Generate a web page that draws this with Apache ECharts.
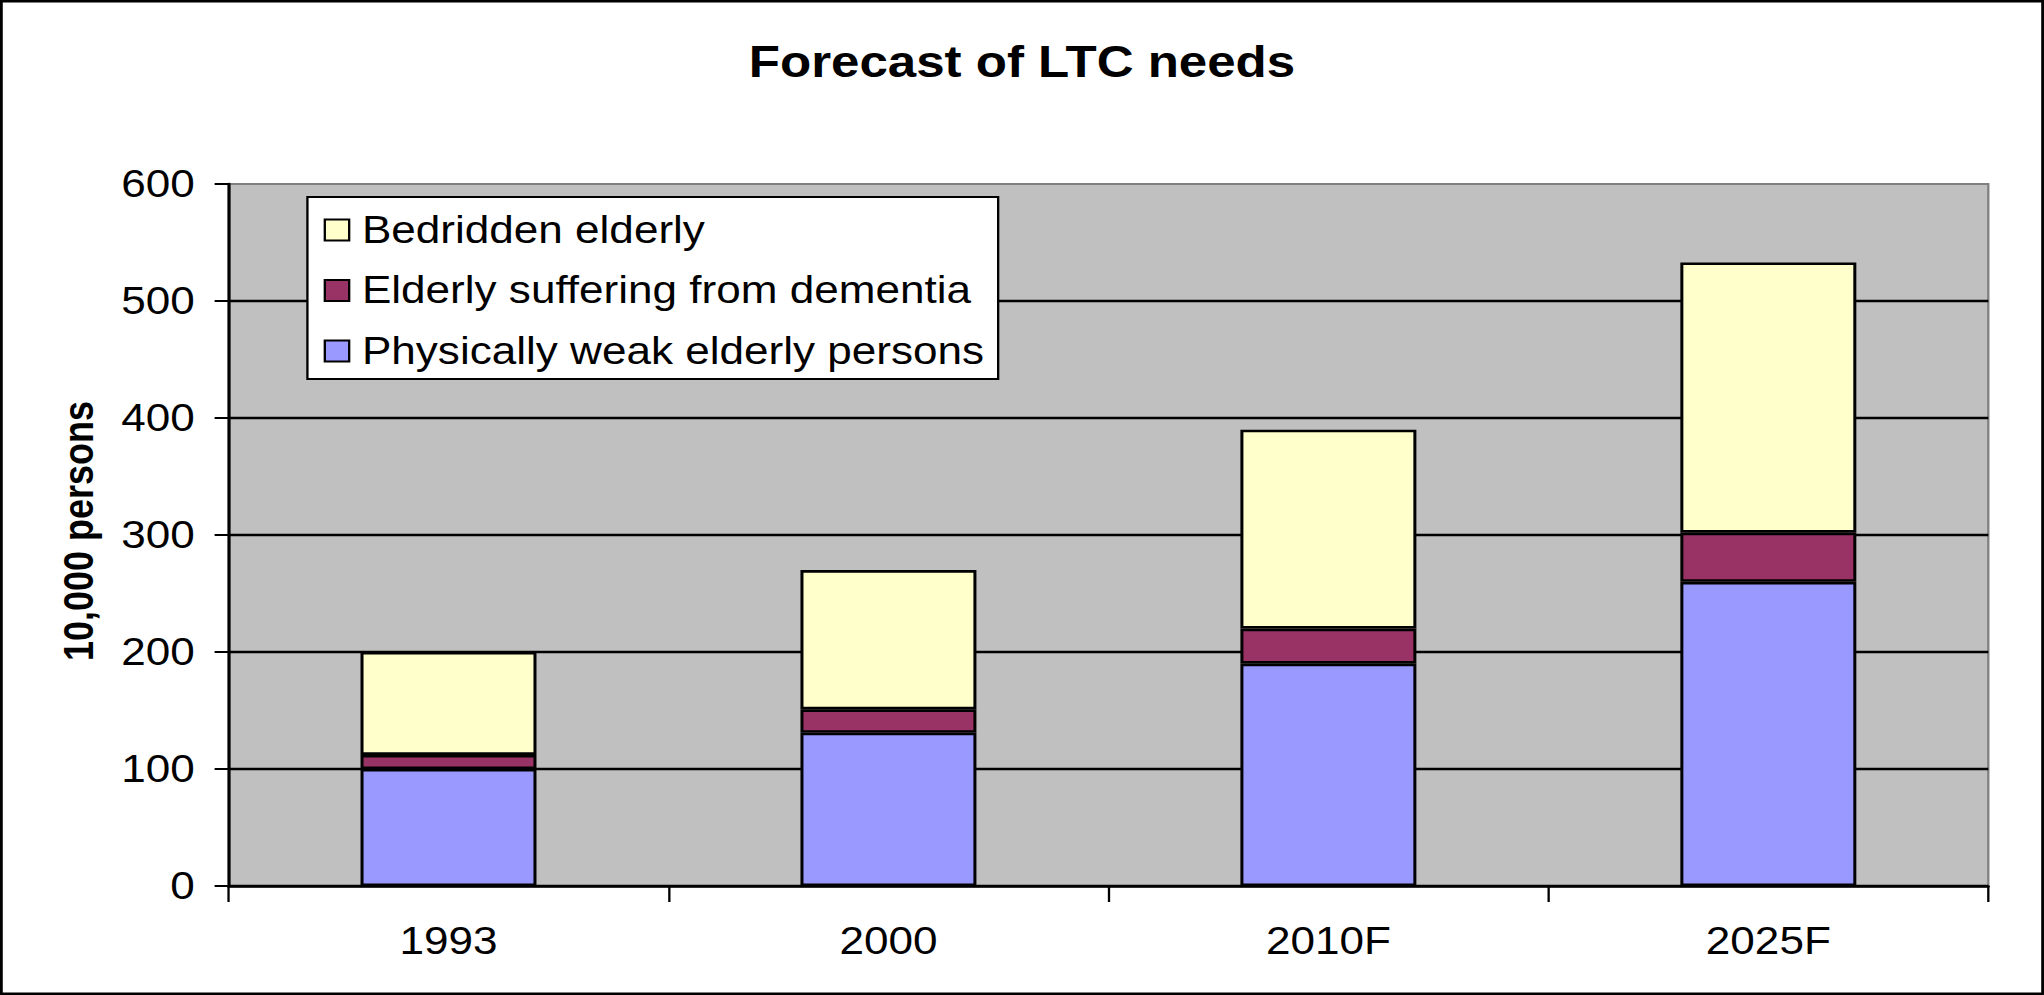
<!DOCTYPE html>
<html>
<head>
<meta charset="utf-8">
<script src="https://cdn.jsdelivr.net/npm/echarts@6/dist/echarts.min.js"></script>
<style>
  html, body { margin: 0; padding: 0; background: #ffffff; overflow: hidden; }
  #chart { width: 1762px; height: 995px; transform: scaleX(1.16004); transform-origin: 0 0; }
</style>
</head>
<body>
<div id="chart"></div>
<script>
const categories = ['1993', '2000', '2010F', '2025F'];
const weakValues = [100, 131, 190, 260];
const dementiaValues = [12, 20, 30, 42];
const bedriddenValues = [88, 119, 170, 231];
const seriesNames = ['Physically weak elderly persons', 'Elderly suffering from dementia', 'Bedridden elderly'];
const legendOrder = ['Bedridden elderly', 'Elderly suffering from dementia', 'Physically weak elderly persons'];
const yTicks = { min: 0, max: 600, interval: 100 };

const FONT = '"Liberation Sans", Arial, sans-serif';
const chart = echarts.init(document.getElementById('chart'), null, { renderer: 'svg' });

function barSeries(name, data, color) {
  return {
    name: name,
    type: 'bar',
    stack: 'total',
    barWidth: '40%',
    data: data,
    itemStyle: { color: color, borderColor: '#000000', borderWidth: 2.6 },
    emphasis: { disabled: true },
    animation: false
  };
}

chart.setOption({
  animation: false,
  backgroundColor: '#ffffff',
  title: {
    text: 'Forecast of LTC needs',
    left: 'center',
    top: 40,
    padding: 0,
    textStyle: { fontFamily: FONT, fontSize: 44, fontWeight: 'bold', color: '#000000' }
  },
  graphic: [{
    type: 'rect',
    shape: { x: 1.2, y: 1.2, width: 1759.6, height: 992.6 },
    style: { fill: 'none', stroke: '#000000', lineWidth: 2.4 },
    silent: true
  }],
  legend: {
    data: legendOrder,
    orient: 'vertical',
    left: 265,
    top: 197,
    padding: [14, 12, 9, 14],
    itemGap: 22.5,
    itemWidth: 21,
    itemHeight: 21,
    icon: 'rect',
    selectedMode: false,
    backgroundColor: '#ffffff',
    borderColor: '#000000',
    borderWidth: 2,
    itemStyle: { borderColor: '#000000', borderWidth: 2 },
    textStyle: { fontFamily: FONT, fontSize: 38, color: '#000000', padding: [0, 0, 0, 6] }
  },
  grid: {
    left: 197,
    right: 48,
    top: 184,
    bottom: 109,
    show: true,
    backgroundColor: '#C0C0C0',
    borderColor: '#808080',
    borderWidth: 2,
    containLabel: false
  },
  xAxis: {
    type: 'category',
    data: categories,
    boundaryGap: true,
    axisLine: { show: true, lineStyle: { color: '#000000', width: 2.6 } },
    axisTick: { show: true, alignWithLabel: false, length: 16, lineStyle: { color: '#000000', width: 2 } },
    axisLabel: { fontFamily: FONT, fontSize: 38, color: '#000000', margin: 36 },
    splitLine: { show: false }
  },
  yAxis: {
    type: 'value',
    min: yTicks.min,
    max: yTicks.max,
    interval: yTicks.interval,
    name: '10,000 persons',
    nameLocation: 'middle',
    nameGap: 111,
    nameTextStyle: { fontFamily: FONT, fontSize: 36, fontWeight: 'bold', color: '#000000', padding: [0, 0, 0, 8] },
    axisLine: { show: true, lineStyle: { color: '#000000', width: 2.6 } },
    axisTick: { show: true, inside: false, length: 12, lineStyle: { color: '#000000', width: 2 } },
    axisLabel: { fontFamily: FONT, fontSize: 38, color: '#000000', margin: 29 },
    splitLine: { show: true, showMaxLine: false, lineStyle: { color: '#000000', width: 2.4 } }
  },
  series: [
    barSeries(seriesNames[0], weakValues, '#9999FF'),
    barSeries(seriesNames[1], dementiaValues, '#993366'),
    barSeries(seriesNames[2], bedriddenValues, '#FFFFCC')
  ]
});
</script>
</body>
</html>
